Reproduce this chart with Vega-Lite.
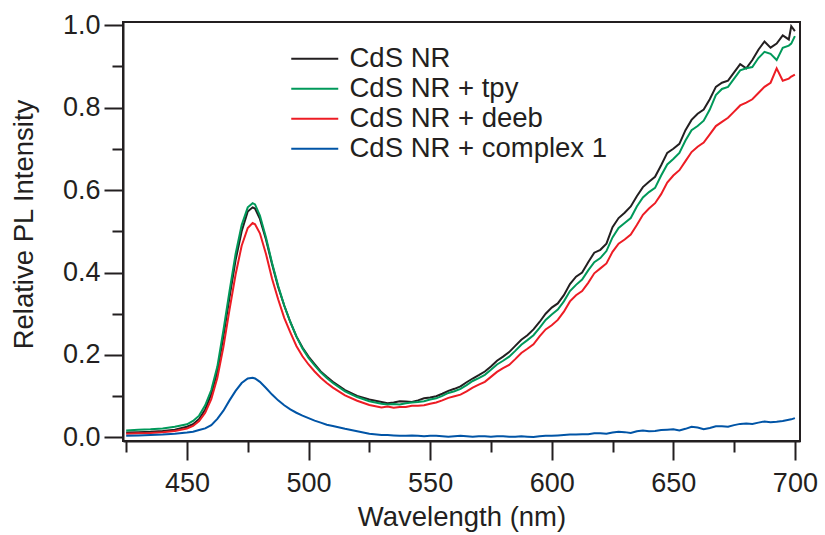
{
  "$schema": "https://vega.github.io/schema/vega-lite/v6.json",
  "width": 677,
  "height": 419,
  "autosize": "none",
  "padding": {"left": 123, "top": 22, "right": 25, "bottom": 94},
  "background": "white",
  "config": {
    "font": "Liberation Sans",
    "view": {"stroke": "#231f20", "strokeWidth": 2},
    "axis": {"domainColor": "#231f20", "domainWidth": 2, "tickColor": "#231f20", "tickWidth": 2, "labelColor": "#231f20", "titleColor": "#231f20", "labelFontSize": 27, "titleFontSize": 27.5, "titleFontWeight": "normal", "grid": false, "labelFont": "Liberation Sans", "titleFont": "Liberation Sans"}
  },
  "data": {"values": [
    {"wl":425,"CdS NR":0.012,"CdS NR + tpy":0.017,"CdS NR + deeb":0.009,"CdS NR + complex 1":0.004},
    {"wl":430,"CdS NR":0.013,"CdS NR + tpy":0.019,"CdS NR + deeb":0.010,"CdS NR + complex 1":0.005},
    {"wl":435,"CdS NR":0.014,"CdS NR + tpy":0.020,"CdS NR + deeb":0.011,"CdS NR + complex 1":0.006},
    {"wl":440,"CdS NR":0.016,"CdS NR + tpy":0.022,"CdS NR + deeb":0.013,"CdS NR + complex 1":0.007},
    {"wl":445,"CdS NR":0.019,"CdS NR + tpy":0.026,"CdS NR + deeb":0.016,"CdS NR + complex 1":0.009},
    {"wl":450,"CdS NR":0.026,"CdS NR + tpy":0.032,"CdS NR + deeb":0.022,"CdS NR + complex 1":0.012},
    {"wl":452.5,"CdS NR":0.032,"CdS NR + tpy":0.040,"CdS NR + deeb":0.028,"CdS NR + complex 1":0.014},
    {"wl":455,"CdS NR":0.045,"CdS NR + tpy":0.053,"CdS NR + deeb":0.040,"CdS NR + complex 1":0.018},
    {"wl":457.5,"CdS NR":0.068,"CdS NR + tpy":0.078,"CdS NR + deeb":0.060,"CdS NR + complex 1":0.022},
    {"wl":460,"CdS NR":0.105,"CdS NR + tpy":0.115,"CdS NR + deeb":0.093,"CdS NR + complex 1":0.030},
    {"wl":462.5,"CdS NR":0.160,"CdS NR + tpy":0.172,"CdS NR + deeb":0.145,"CdS NR + complex 1":0.045},
    {"wl":465,"CdS NR":0.245,"CdS NR + tpy":0.260,"CdS NR + deeb":0.220,"CdS NR + complex 1":0.065},
    {"wl":467.5,"CdS NR":0.340,"CdS NR + tpy":0.355,"CdS NR + deeb":0.310,"CdS NR + complex 1":0.090},
    {"wl":470,"CdS NR":0.430,"CdS NR + tpy":0.445,"CdS NR + deeb":0.395,"CdS NR + complex 1":0.113},
    {"wl":472.5,"CdS NR":0.500,"CdS NR + tpy":0.515,"CdS NR + deeb":0.465,"CdS NR + complex 1":0.132},
    {"wl":475,"CdS NR":0.548,"CdS NR + tpy":0.558,"CdS NR + deeb":0.508,"CdS NR + complex 1":0.143},
    {"wl":477,"CdS NR":0.558,"CdS NR + tpy":0.568,"CdS NR + deeb":0.520,"CdS NR + complex 1":0.145},
    {"wl":478,"CdS NR":0.555,"CdS NR + tpy":0.565,"CdS NR + deeb":0.517,"CdS NR + complex 1":0.143},
    {"wl":480,"CdS NR":0.530,"CdS NR + tpy":0.538,"CdS NR + deeb":0.495,"CdS NR + complex 1":0.135},
    {"wl":482.5,"CdS NR":0.480,"CdS NR + tpy":0.485,"CdS NR + deeb":0.445,"CdS NR + complex 1":0.120},
    {"wl":485,"CdS NR":0.420,"CdS NR + tpy":0.423,"CdS NR + deeb":0.385,"CdS NR + complex 1":0.104},
    {"wl":487.5,"CdS NR":0.365,"CdS NR + tpy":0.368,"CdS NR + deeb":0.335,"CdS NR + complex 1":0.090},
    {"wl":490,"CdS NR":0.320,"CdS NR + tpy":0.320,"CdS NR + deeb":0.290,"CdS NR + complex 1":0.078},
    {"wl":492.5,"CdS NR":0.280,"CdS NR + tpy":0.280,"CdS NR + deeb":0.255,"CdS NR + complex 1":0.068},
    {"wl":495,"CdS NR":0.245,"CdS NR + tpy":0.245,"CdS NR + deeb":0.222,"CdS NR + complex 1":0.060},
    {"wl":497.5,"CdS NR":0.218,"CdS NR + tpy":0.216,"CdS NR + deeb":0.197,"CdS NR + complex 1":0.053},
    {"wl":500,"CdS NR":0.196,"CdS NR + tpy":0.193,"CdS NR + deeb":0.177,"CdS NR + complex 1":0.047},
    {"wl":502.5,"CdS NR":0.178,"CdS NR + tpy":0.175,"CdS NR + deeb":0.160,"CdS NR + complex 1":0.041},
    {"wl":505,"CdS NR":0.160,"CdS NR + tpy":0.158,"CdS NR + deeb":0.145,"CdS NR + complex 1":0.036},
    {"wl":507.5,"CdS NR":0.147,"CdS NR + tpy":0.144,"CdS NR + deeb":0.132,"CdS NR + complex 1":0.031},
    {"wl":510,"CdS NR":0.135,"CdS NR + tpy":0.132,"CdS NR + deeb":0.121,"CdS NR + complex 1":0.028},
    {"wl":515,"CdS NR":0.115,"CdS NR + tpy":0.112,"CdS NR + deeb":0.102,"CdS NR + complex 1":0.021},
    {"wl":520,"CdS NR":0.101,"CdS NR + tpy":0.098,"CdS NR + deeb":0.089,"CdS NR + complex 1":0.015},
    {"wl":525,"CdS NR":0.092,"CdS NR + tpy":0.088,"CdS NR + deeb":0.079,"CdS NR + complex 1":0.009},
    {"wl":530,"CdS NR":0.086,"CdS NR + tpy":0.082,"CdS NR + deeb":0.073,"CdS NR + complex 1":0.006},
    {"wl":532.5,"CdS NR":0.083,"CdS NR + tpy":0.080,"CdS NR + deeb":0.075,"CdS NR + complex 1":0.006},
    {"wl":535,"CdS NR":0.085,"CdS NR + tpy":0.081,"CdS NR + deeb":0.072,"CdS NR + complex 1":0.005},
    {"wl":537.5,"CdS NR":0.088,"CdS NR + tpy":0.080,"CdS NR + deeb":0.074,"CdS NR + complex 1":0.004},
    {"wl":540,"CdS NR":0.087,"CdS NR + tpy":0.083,"CdS NR + deeb":0.074,"CdS NR + complex 1":0.004},
    {"wl":542.5,"CdS NR":0.086,"CdS NR + tpy":0.085,"CdS NR + deeb":0.077,"CdS NR + complex 1":0.005},
    {"wl":545,"CdS NR":0.090,"CdS NR + tpy":0.086,"CdS NR + deeb":0.077,"CdS NR + complex 1":0.004},
    {"wl":547.5,"CdS NR":0.095,"CdS NR + tpy":0.088,"CdS NR + deeb":0.078,"CdS NR + complex 1":0.003},
    {"wl":550,"CdS NR":0.097,"CdS NR + tpy":0.092,"CdS NR + deeb":0.082,"CdS NR + complex 1":0.004},
    {"wl":552.5,"CdS NR":0.100,"CdS NR + tpy":0.095,"CdS NR + deeb":0.085,"CdS NR + complex 1":0.004},
    {"wl":555,"CdS NR":0.106,"CdS NR + tpy":0.101,"CdS NR + deeb":0.090,"CdS NR + complex 1":0.003},
    {"wl":557.5,"CdS NR":0.113,"CdS NR + tpy":0.108,"CdS NR + deeb":0.096,"CdS NR + complex 1":0.002},
    {"wl":560,"CdS NR":0.118,"CdS NR + tpy":0.112,"CdS NR + deeb":0.100,"CdS NR + complex 1":0.003},
    {"wl":562.5,"CdS NR":0.124,"CdS NR + tpy":0.118,"CdS NR + deeb":0.104,"CdS NR + complex 1":0.004},
    {"wl":565,"CdS NR":0.134,"CdS NR + tpy":0.127,"CdS NR + deeb":0.112,"CdS NR + complex 1":0.003},
    {"wl":567.5,"CdS NR":0.143,"CdS NR + tpy":0.137,"CdS NR + deeb":0.121,"CdS NR + complex 1":0.002},
    {"wl":570,"CdS NR":0.151,"CdS NR + tpy":0.144,"CdS NR + deeb":0.128,"CdS NR + complex 1":0.003},
    {"wl":572.5,"CdS NR":0.160,"CdS NR + tpy":0.152,"CdS NR + deeb":0.135,"CdS NR + complex 1":0.003},
    {"wl":575,"CdS NR":0.172,"CdS NR + tpy":0.164,"CdS NR + deeb":0.147,"CdS NR + complex 1":0.002},
    {"wl":577.5,"CdS NR":0.186,"CdS NR + tpy":0.177,"CdS NR + deeb":0.159,"CdS NR + complex 1":0.003},
    {"wl":580,"CdS NR":0.196,"CdS NR + tpy":0.186,"CdS NR + deeb":0.168,"CdS NR + complex 1":0.003},
    {"wl":582.5,"CdS NR":0.207,"CdS NR + tpy":0.196,"CdS NR + deeb":0.176,"CdS NR + complex 1":0.002},
    {"wl":585,"CdS NR":0.222,"CdS NR + tpy":0.210,"CdS NR + deeb":0.190,"CdS NR + complex 1":0.002},
    {"wl":587.5,"CdS NR":0.237,"CdS NR + tpy":0.225,"CdS NR + deeb":0.205,"CdS NR + complex 1":0.003},
    {"wl":590,"CdS NR":0.248,"CdS NR + tpy":0.236,"CdS NR + deeb":0.215,"CdS NR + complex 1":0.002},
    {"wl":592.5,"CdS NR":0.262,"CdS NR + tpy":0.248,"CdS NR + deeb":0.226,"CdS NR + complex 1":0.001},
    {"wl":595,"CdS NR":0.280,"CdS NR + tpy":0.266,"CdS NR + deeb":0.245,"CdS NR + complex 1":0.003},
    {"wl":597.5,"CdS NR":0.300,"CdS NR + tpy":0.285,"CdS NR + deeb":0.262,"CdS NR + complex 1":0.004},
    {"wl":600,"CdS NR":0.315,"CdS NR + tpy":0.298,"CdS NR + deeb":0.272,"CdS NR + complex 1":0.004},
    {"wl":602.5,"CdS NR":0.325,"CdS NR + tpy":0.310,"CdS NR + deeb":0.285,"CdS NR + complex 1":0.005},
    {"wl":605,"CdS NR":0.345,"CdS NR + tpy":0.330,"CdS NR + deeb":0.305,"CdS NR + complex 1":0.006},
    {"wl":607.5,"CdS NR":0.372,"CdS NR + tpy":0.355,"CdS NR + deeb":0.330,"CdS NR + complex 1":0.007},
    {"wl":610,"CdS NR":0.390,"CdS NR + tpy":0.370,"CdS NR + deeb":0.345,"CdS NR + complex 1":0.007},
    {"wl":612.5,"CdS NR":0.400,"CdS NR + tpy":0.383,"CdS NR + deeb":0.355,"CdS NR + complex 1":0.008},
    {"wl":615,"CdS NR":0.425,"CdS NR + tpy":0.405,"CdS NR + deeb":0.375,"CdS NR + complex 1":0.008},
    {"wl":617.5,"CdS NR":0.448,"CdS NR + tpy":0.425,"CdS NR + deeb":0.398,"CdS NR + complex 1":0.010},
    {"wl":620,"CdS NR":0.455,"CdS NR + tpy":0.435,"CdS NR + deeb":0.410,"CdS NR + complex 1":0.010},
    {"wl":622.5,"CdS NR":0.470,"CdS NR + tpy":0.452,"CdS NR + deeb":0.422,"CdS NR + complex 1":0.009},
    {"wl":625,"CdS NR":0.510,"CdS NR + tpy":0.485,"CdS NR + deeb":0.450,"CdS NR + complex 1":0.012},
    {"wl":627.5,"CdS NR":0.532,"CdS NR + tpy":0.508,"CdS NR + deeb":0.470,"CdS NR + complex 1":0.014},
    {"wl":630,"CdS NR":0.545,"CdS NR + tpy":0.520,"CdS NR + deeb":0.480,"CdS NR + complex 1":0.013},
    {"wl":632.5,"CdS NR":0.560,"CdS NR + tpy":0.532,"CdS NR + deeb":0.492,"CdS NR + complex 1":0.011},
    {"wl":635,"CdS NR":0.585,"CdS NR + tpy":0.560,"CdS NR + deeb":0.515,"CdS NR + complex 1":0.015},
    {"wl":637.5,"CdS NR":0.607,"CdS NR + tpy":0.582,"CdS NR + deeb":0.540,"CdS NR + complex 1":0.017},
    {"wl":640,"CdS NR":0.620,"CdS NR + tpy":0.595,"CdS NR + deeb":0.555,"CdS NR + complex 1":0.015},
    {"wl":642.5,"CdS NR":0.632,"CdS NR + tpy":0.605,"CdS NR + deeb":0.568,"CdS NR + complex 1":0.016},
    {"wl":645,"CdS NR":0.660,"CdS NR + tpy":0.635,"CdS NR + deeb":0.590,"CdS NR + complex 1":0.018},
    {"wl":647.5,"CdS NR":0.690,"CdS NR + tpy":0.662,"CdS NR + deeb":0.618,"CdS NR + complex 1":0.019},
    {"wl":650,"CdS NR":0.700,"CdS NR + tpy":0.675,"CdS NR + deeb":0.635,"CdS NR + complex 1":0.020},
    {"wl":652.5,"CdS NR":0.712,"CdS NR + tpy":0.690,"CdS NR + deeb":0.648,"CdS NR + complex 1":0.017},
    {"wl":655,"CdS NR":0.745,"CdS NR + tpy":0.720,"CdS NR + deeb":0.670,"CdS NR + complex 1":0.021},
    {"wl":657.5,"CdS NR":0.770,"CdS NR + tpy":0.745,"CdS NR + deeb":0.692,"CdS NR + complex 1":0.026},
    {"wl":660,"CdS NR":0.785,"CdS NR + tpy":0.755,"CdS NR + deeb":0.705,"CdS NR + complex 1":0.024},
    {"wl":662.5,"CdS NR":0.795,"CdS NR + tpy":0.768,"CdS NR + deeb":0.715,"CdS NR + complex 1":0.020},
    {"wl":665,"CdS NR":0.820,"CdS NR + tpy":0.795,"CdS NR + deeb":0.735,"CdS NR + complex 1":0.023},
    {"wl":667.5,"CdS NR":0.850,"CdS NR + tpy":0.830,"CdS NR + deeb":0.755,"CdS NR + complex 1":0.027},
    {"wl":670,"CdS NR":0.860,"CdS NR + tpy":0.845,"CdS NR + deeb":0.765,"CdS NR + complex 1":0.027},
    {"wl":672.5,"CdS NR":0.865,"CdS NR + tpy":0.850,"CdS NR + deeb":0.775,"CdS NR + complex 1":0.026},
    {"wl":675,"CdS NR":0.885,"CdS NR + tpy":0.870,"CdS NR + deeb":0.790,"CdS NR + complex 1":0.030},
    {"wl":677.5,"CdS NR":0.905,"CdS NR + tpy":0.890,"CdS NR + deeb":0.805,"CdS NR + complex 1":0.033},
    {"wl":680,"CdS NR":0.895,"CdS NR + tpy":0.895,"CdS NR + deeb":0.812,"CdS NR + complex 1":0.034},
    {"wl":682.5,"CdS NR":0.915,"CdS NR + tpy":0.898,"CdS NR + deeb":0.820,"CdS NR + complex 1":0.033},
    {"wl":685,"CdS NR":0.940,"CdS NR + tpy":0.920,"CdS NR + deeb":0.835,"CdS NR + complex 1":0.036},
    {"wl":687.5,"CdS NR":0.960,"CdS NR + tpy":0.935,"CdS NR + deeb":0.850,"CdS NR + complex 1":0.039},
    {"wl":690,"CdS NR":0.945,"CdS NR + tpy":0.930,"CdS NR + deeb":0.860,"CdS NR + complex 1":0.037},
    {"wl":692.5,"CdS NR":0.955,"CdS NR + tpy":0.915,"CdS NR + deeb":0.895,"CdS NR + complex 1":0.038},
    {"wl":695,"CdS NR":0.975,"CdS NR + tpy":0.945,"CdS NR + deeb":0.865,"CdS NR + complex 1":0.040},
    {"wl":697.5,"CdS NR":0.965,"CdS NR + tpy":0.950,"CdS NR + deeb":0.870,"CdS NR + complex 1":0.043},
    {"wl":698.5,"CdS NR":0.997,"CdS NR + tpy":0.955,"CdS NR + deeb":0.875,"CdS NR + complex 1":0.044},
    {"wl":700,"CdS NR":0.985,"CdS NR + tpy":0.973,"CdS NR + deeb":0.880,"CdS NR + complex 1":0.047}
  ]},
  "transform": [
    {"fold": ["CdS NR", "CdS NR + tpy", "CdS NR + deeb", "CdS NR + complex 1"], "as": ["series", "value"]}
  ],
  "mark": {"type": "line", "strokeWidth": 2, "clip": true},
  "encoding": {
    "x": {
      "field": "wl", "type": "quantitative",
      "scale": {"domain": [423.7, 702.1], "nice": false, "zero": false},
      "axis": {
        "title": "Wavelength (nm)",
        "values": [425, 450, 475, 500, 525, 550, 575, 600, 625, 650, 675, 700],
        "labelExpr": "datum.value % 50 === 0 ? datum.label : ''",
        "tickSize": {"condition": {"test": "datum.value % 50 === 0", "value": 19}, "value": 11},
        "labelPadding": 10,
        "titlePadding": 7,
        "labelFlush": false,
        "labelOverlap": false
      }
    },
    "y": {
      "field": "value", "type": "quantitative",
      "scale": {"domain": [-0.0085, 1.0073], "nice": false, "zero": false},
      "axis": {
        "title": "Relative PL Intensity",
        "values": [0, 0.1, 0.2, 0.3, 0.4, 0.5, 0.6, 0.7, 0.8, 0.9, 1.0],
        "labelExpr": "round(datum.value * 10) % 2 === 0 ? format(datum.value, '.1f') : ''",
        "tickSize": {"condition": {"test": "round(datum.value * 10) % 2 === 0", "value": 19}, "value": 11},
        "labelPadding": 4,
        "titlePadding": 24,
        "titleY": 202,
        "labelFlush": false,
        "labelOverlap": false
      }
    },
    "color": {
      "field": "series", "type": "nominal",
      "scale": {"domain": ["CdS NR", "CdS NR + tpy", "CdS NR + deeb", "CdS NR + complex 1"], "range": ["#231f20", "#00995a", "#ed1c24", "#0054a6"]},
      "legend": {
        "title": null,
        "orient": "none",
        "legendX": 178,
        "legendY": 23,
        "padding": 0,
        "symbolType": "M-2,0H2",
        "symbolSize": 552,
        "symbolStrokeWidth": 2,
        "labelFontSize": 27.5,
        "labelFont": "Liberation Sans",
        "labelColor": "#231f20",
        "labelOffset": 21,
        "rowPadding": 1,
        "labelLimit": 400
      }
    }
  }
}
